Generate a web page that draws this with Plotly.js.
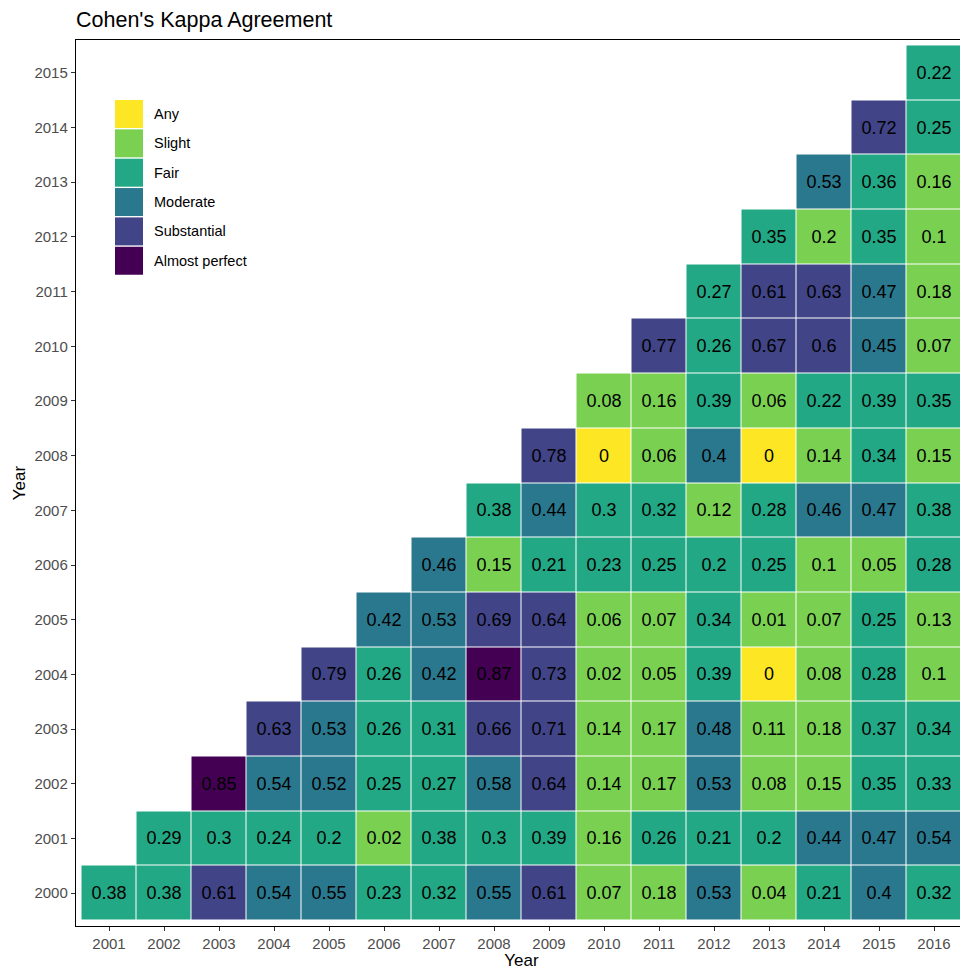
<!DOCTYPE html>
<html>
<head>
<meta charset="utf-8">
<script src="https://cdn.plot.ly/plotly-3.0.1.min.js"></script>
<style>
html,body{margin:0;padding:0;overflow:hidden;background:#fff;}
#chart{width:967px;height:970px;}
</style>
</head>
<body>
<div id="chart"></div>
<script>
// ---- data ----
const xYears = [2001,2002,2003,2004,2005,2006,2007,2008,2009,2010,2011,2012,2013,2014,2015,2016];
const yYears = [2000,2001,2002,2003,2004,2005,2006,2007,2008,2009,2010,2011,2012,2013,2014,2015];
const N = null;
// Cohen's kappa, one row per y year (2000..2015), columns x = 2001..2016
const kappa = [
  [0.38,0.38,0.61,0.54,0.55,0.23,0.32,0.55,0.61,0.07,0.18,0.53,0.04,0.21,0.4,0.32],
  [N,0.29,0.3,0.24,0.2,0.02,0.38,0.3,0.39,0.16,0.26,0.21,0.2,0.44,0.47,0.54],
  [N,N,0.85,0.54,0.52,0.25,0.27,0.58,0.64,0.14,0.17,0.53,0.08,0.15,0.35,0.33],
  [N,N,N,0.63,0.53,0.26,0.31,0.66,0.71,0.14,0.17,0.48,0.11,0.18,0.37,0.34],
  [N,N,N,N,0.79,0.26,0.42,0.87,0.73,0.02,0.05,0.39,0,0.08,0.28,0.1],
  [N,N,N,N,N,0.42,0.53,0.69,0.64,0.06,0.07,0.34,0.01,0.07,0.25,0.13],
  [N,N,N,N,N,N,0.46,0.15,0.21,0.23,0.25,0.2,0.25,0.1,0.05,0.28],
  [N,N,N,N,N,N,N,0.38,0.44,0.3,0.32,0.12,0.28,0.46,0.47,0.38],
  [N,N,N,N,N,N,N,N,0.78,0,0.06,0.4,0,0.14,0.34,0.15],
  [N,N,N,N,N,N,N,N,N,0.08,0.16,0.39,0.06,0.22,0.39,0.35],
  [N,N,N,N,N,N,N,N,N,N,0.77,0.26,0.67,0.6,0.45,0.07],
  [N,N,N,N,N,N,N,N,N,N,N,0.27,0.61,0.63,0.47,0.18],
  [N,N,N,N,N,N,N,N,N,N,N,N,0.35,0.2,0.35,0.1],
  [N,N,N,N,N,N,N,N,N,N,N,N,N,0.53,0.36,0.16],
  [N,N,N,N,N,N,N,N,N,N,N,N,N,N,0.72,0.25],
  [N,N,N,N,N,N,N,N,N,N,N,N,N,N,N,0.22]
];
// agreement level per cell (0 Any .. 5 Almost perfect), as coloured in the picture
const level = [
  [2,2,4,3,3,2,2,3,4,1,1,3,1,2,3,2],
  [N,2,2,2,2,1,2,2,2,1,2,2,2,3,3,3],
  [N,N,5,3,3,2,2,3,4,1,1,3,1,1,2,2],
  [N,N,N,4,3,2,2,4,4,1,1,3,1,1,2,2],
  [N,N,N,N,4,2,3,5,4,1,1,2,0,1,2,1],
  [N,N,N,N,N,3,3,4,4,1,1,2,1,1,2,1],
  [N,N,N,N,N,N,3,1,2,2,2,2,2,1,1,2],
  [N,N,N,N,N,N,N,2,3,2,2,1,2,3,3,2],
  [N,N,N,N,N,N,N,N,4,0,1,3,0,1,2,1],
  [N,N,N,N,N,N,N,N,N,1,1,2,1,2,2,2],
  [N,N,N,N,N,N,N,N,N,N,4,2,4,4,3,1],
  [N,N,N,N,N,N,N,N,N,N,N,2,4,4,3,1],
  [N,N,N,N,N,N,N,N,N,N,N,N,2,1,2,1],
  [N,N,N,N,N,N,N,N,N,N,N,N,N,3,2,1],
  [N,N,N,N,N,N,N,N,N,N,N,N,N,N,4,2],
  [N,N,N,N,N,N,N,N,N,N,N,N,N,N,N,2]
];
const levelNames = ['Any','Slight','Fair','Moderate','Substantial','Almost perfect'];
const levelColors = ['#FDE725','#7AD151','#22A884','#2A788E','#414487','#440154'];

// ---- build ----
const nL = levelColors.length;
const colorscale = [];
levelColors.forEach((c,i)=>{ colorscale.push([i/nL,c]); colorscale.push([(i+1)/nL,c]); });
const text = kappa.map(r => r.map(v => v === null ? '' : String(v)));

const FONT = 'Liberation Sans, Arial, Helvetica, sans-serif';

const trace = {
  type:'heatmap', x:xYears, y:yYears, z:level, text:text,
  texttemplate:'%{text}', textfont:{family:FONT,size:18,color:'#000000'},
  colorscale:colorscale, zmin:-0.5, zmax:nL-0.5, showscale:false,
  xgap:1, ygap:1, hoverinfo:'skip'
};

// plot area geometry in px (for legend placement)
const W=967, H=970, ML=76, MR=0, MT=40, MB=44;
const PW=W-ML-MR, PH=H-MT-MB;
const px = v => (v-ML)/PW, py = v => 1-(v-MT)/PH;

const shapes=[], annotations=[];
levelNames.forEach((name,i)=>{
  const top = 100 + i*29.35;
  shapes.push({type:'rect',xref:'paper',yref:'paper',x0:px(115),x1:px(143),y0:py(top+28),y1:py(top),
    fillcolor:levelColors[i],line:{width:0},layer:'above'});
  annotations.push({xref:'paper',yref:'paper',x:px(152),y:py(top+14),xanchor:'left',yanchor:'middle',
    text:name,showarrow:false,font:{family:FONT,size:14.5,color:'#000000'}});
});

const axisCommon = {
  type:'linear', showgrid:false, zeroline:false, showline:true, mirror:true,
  linecolor:'#000000', linewidth:1.2, ticks:'outside', ticklen:4, tickwidth:1, tickcolor:'#333333',
  tickfont:{family:FONT,size:15,color:'#4d4d4d'}
};

const layout = {
  width:W, height:H, margin:{l:ML,r:MR,t:MT,b:MB},
  paper_bgcolor:'#ffffff', plot_bgcolor:'#ffffff',
  font:{family:FONT},
  title:{text:"Cohen's Kappa Agreement", x:ML/W, xref:'container', xanchor:'left',
    y:1-19/H, yref:'container', yanchor:'middle', font:{family:FONT,size:21.5,color:'#000000'}},
  xaxis:Object.assign({}, axisCommon, {range:[2000.4,2016.6], tickvals:xYears, ticktext:xYears.map(String),
    title:{text:'Year', font:{family:FONT,size:17,color:'#000000'}, standoff:2}}),
  yaxis:Object.assign({}, axisCommon, {range:[1999.4,2015.6], tickvals:yYears, ticktext:yYears.map(String),
    title:{text:'Year', font:{family:FONT,size:17,color:'#000000'}, standoff:4}}),
  shapes:shapes, annotations:annotations, showlegend:false
};

Plotly.newPlot('chart',[trace],layout,{displayModeBar:false,staticPlot:true});
</script>
</body>
</html>
